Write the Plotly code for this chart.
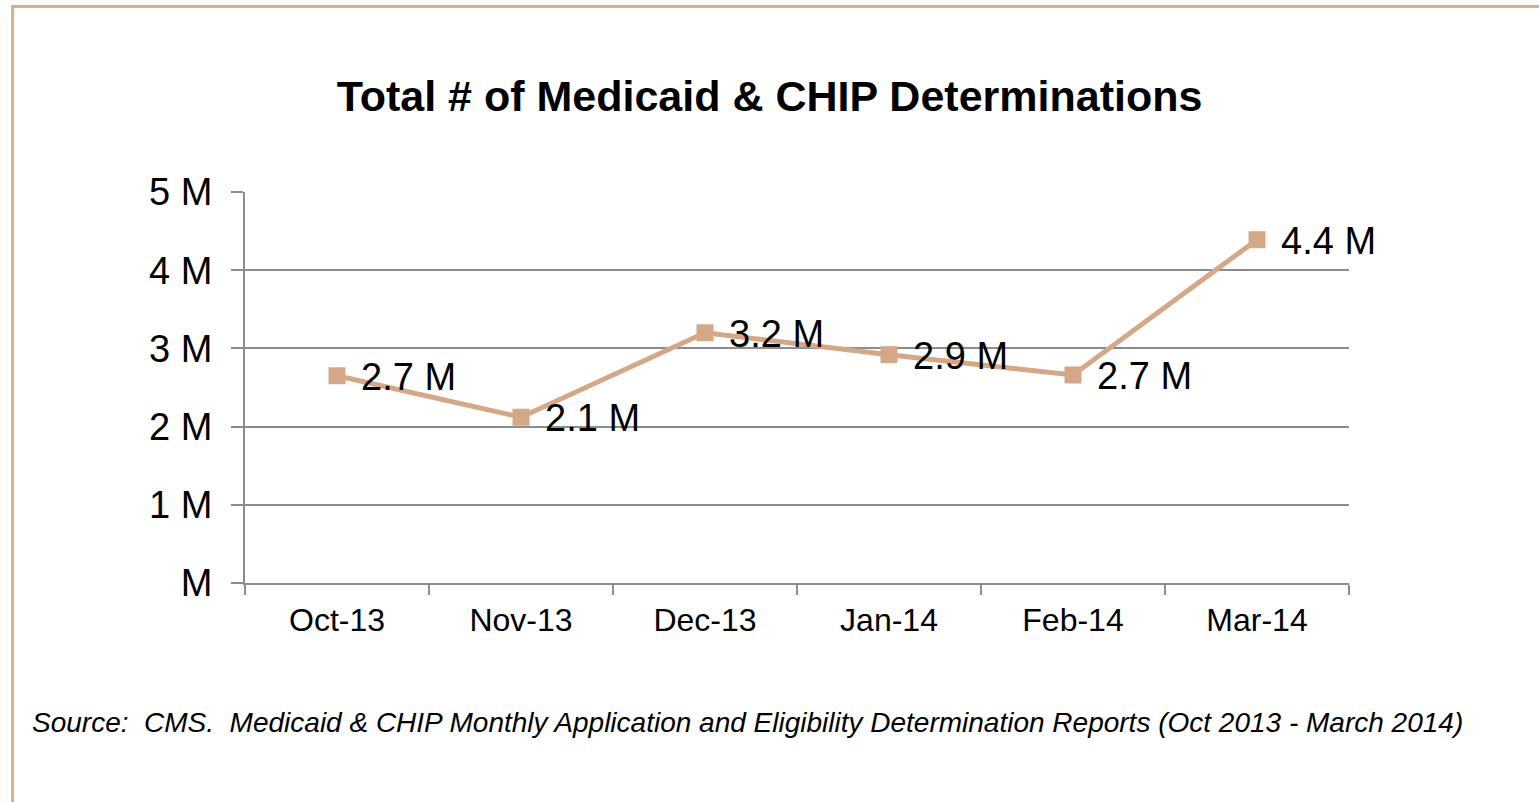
import plotly.graph_objects as go

months = ["Oct-13", "Nov-13", "Dec-13", "Jan-14", "Feb-14", "Mar-14"]
determinations = [2.65, 2.12, 3.20, 2.92, 2.66, 4.39]  # millions
labels = ["2.7 M", "2.1 M", "3.2 M", "2.9 M", "2.7 M", "4.4 M"]
ytick_vals = [0, 1, 2, 3, 4, 5]
ytick_text = ["M", "1 M", "2 M", "3 M", "4 M", "5 M"]

TAN = "#D4A886"
GRID = "#8C8C8C"
FONT = "Liberation Sans, Arial, sans-serif"

fig = go.Figure()
fig.add_trace(go.Scatter(
    x=months, y=determinations, mode="lines+markers",
    line=dict(color=TAN, width=5),
    marker=dict(symbol="square", size=17, color=TAN),
    hoverinfo="skip", showlegend=False,
))

for m, v, t in zip(months, determinations, labels):
    fig.add_annotation(x=m, y=v, text=t, showarrow=False, xanchor="left",
                       yanchor="middle", xshift=22, yshift=-1,
                       font=dict(family=FONT, size=38, color="#000000"))

fig.add_annotation(
    xref="paper", yref="paper", x=-0.195, y=-0.358, xanchor="left", yanchor="middle",
    text="<i>Source:  CMS.  Medicaid &amp; CHIP Monthly Application and Eligibility Determination Reports (Oct 2013 - March 2014)</i>",
    showarrow=False, font=dict(family=FONT, size=28, color="#000000"))

fig.add_shape(type="rect", xref="paper", yref="paper",
              x0=-0.2105, x1=1.4, y0=-1.0, y1=1.4745,
              line=dict(color="#D9AE8C", width=3), fillcolor="rgba(0,0,0,0)", layer="below")

fig.update_layout(
    width=1539, height=802,
    margin=dict(l=245, r=190, t=192, b=219),
    paper_bgcolor="white", plot_bgcolor="white",
    title=dict(text="<b>Total # of Medicaid &amp; CHIP Determinations</b>",
               x=0.5, xref="container", y=1 - 96 / 802, yref="container",
               xanchor="center", yanchor="middle",
               font=dict(family=FONT, size=43, color="#000000")),
    font=dict(family=FONT, color="#000000"),
)

fig.update_xaxes(
    type="category", showgrid=False, showline=True, linecolor=GRID, linewidth=2,
    ticks="outside", tickson="boundaries", ticklen=10, tickcolor=GRID, tickwidth=2,
    ticklabelstandoff=8,
    tickfont=dict(family=FONT, size=32, color="#000000"),
    range=[-0.5, 5.5], zeroline=False,
)
fig.update_yaxes(
    range=[0, 5], tickvals=ytick_vals, ticktext=ytick_text,
    showgrid=True, gridcolor=GRID, gridwidth=2,
    showline=True, linecolor=GRID, linewidth=2,
    ticks="outside", ticklen=12, tickcolor=GRID, tickwidth=2,
    ticklabelstandoff=11,
    tickfont=dict(family=FONT, size=38, color="#000000"), zeroline=False,
)

fig.write_html("out.html", config={"displayModeBar": False},
               post_script="document.body.style.margin='0';document.body.style.overflow='hidden';")
